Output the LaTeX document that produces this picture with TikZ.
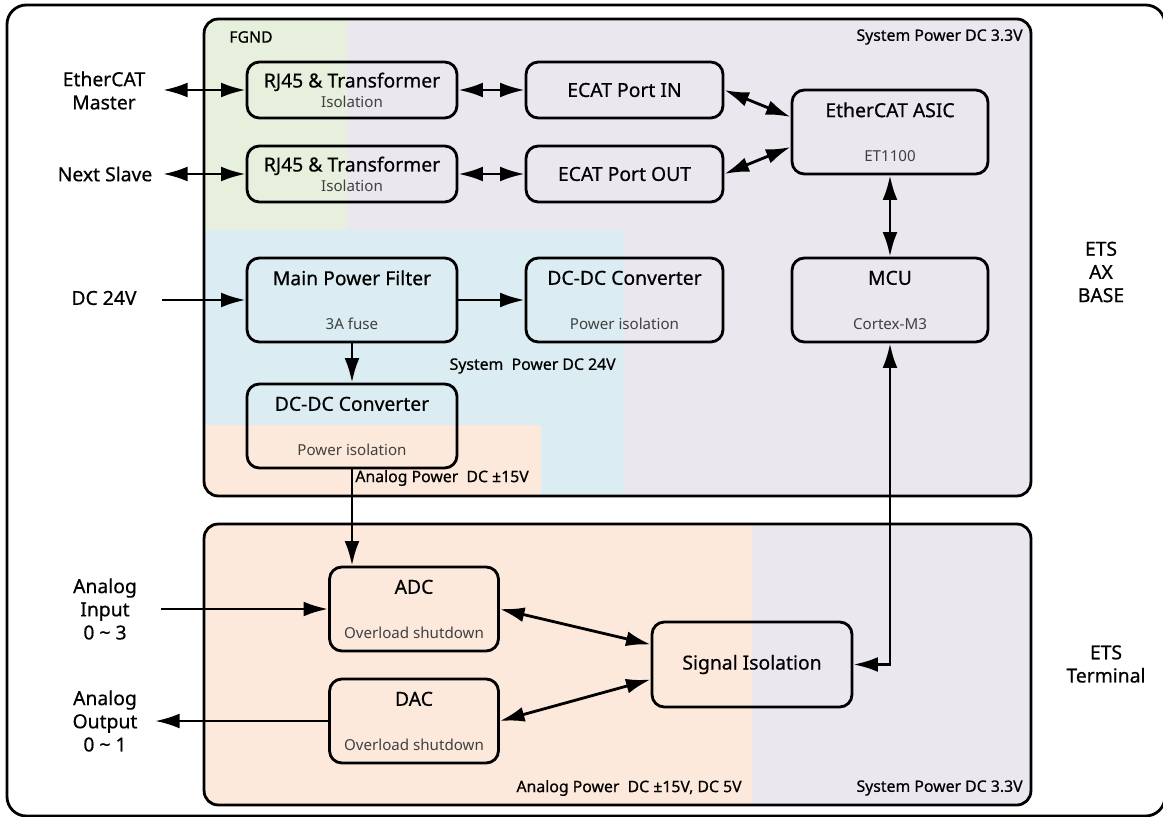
\documentclass[tikz,border=0pt]{standalone}
\usepackage{fontspec}
\setmainfont{Noto Sans}
\newfontfamily\medfont{Noto Sans}[FakeBold=0.6]
\usetikzlibrary{arrows.meta,calc}
\definecolor{fgndgreen}{HTML}{E7EFDD}
\definecolor{syslav}{HTML}{EAE7EF}
\definecolor{pwrblue}{HTML}{DBECF2}
\definecolor{anaorange}{HTML}{FCE9DC}
\definecolor{subgray}{HTML}{404040}
\newcommand{\subtxt}[1]{{\normalfont\fontsize{8.6}{10}\selectfont\color{subgray}#1}}
\tikzset{
  blk/.style={draw,line width=1.6pt,rounded corners=7pt,inner sep=0pt,align=center,
    font=\medfont\fontsize{11}{13.2}\selectfont},
  grp/.style={draw,line width=1.6pt,rounded corners=8pt,inner sep=0pt},
  reg/.style={font=\medfont\fontsize{9}{11}\selectfont,inner sep=0pt},
  ext/.style={align=center,font=\medfont\fontsize{11}{13.2}\selectfont,inner sep=0pt},
  con/.style={line width=1.6pt}
}
\begin{document}
\begin{tikzpicture}[x=0.02cm,y=-0.02cm,>={Latex[length=14pt,width=8.5pt]}]
      \useasboundingbox (0,0) rectangle (1163,817);
      \clip (0,0) rectangle (1163,817);
      \draw [line width=1.6pt,rounded corners=11pt] (7,5) rectangle (1165,816);

      % ETS AX BASE
      \begin{scope}
        \clip [rounded corners=8pt] (204,19) rectangle (1031,496);
        \fill [syslav] (204,19) rectangle (1031,496);
        \fill [fgndgreen] (204,19) rectangle (347,230);
        \fill [pwrblue] (204,230) rectangle (624,496);
        \fill [anaorange] (204,425) rectangle (541,496);
      \end{scope}
      \node (base) at (617.5,257.5) [grp,minimum width=16.54cm,minimum height=9.54cm] {};

      % ETS Terminal
      \begin{scope}
        \clip [rounded corners=8pt] (204,524) rectangle (1031,805);
        \fill [syslav] (204,524) rectangle (1031,805);
        \fill [anaorange] (204,524) rectangle (752,805);
      \end{scope}
      \node (term) at (617.5,664.5) [grp,minimum width=16.54cm,minimum height=5.62cm] {};

      \node (fgnd) at (229,37) [reg,anchor=west] {FGND};
      \node (sysa) at (1023,37) [reg,anchor=east] {System Power DC 3.3V};
      \node (sysb) at (616,366) [reg,anchor=east] {System\ \ Power DC 24V};
      \node (anaa) at (355,478) [reg,anchor=west] {Analog Power\ \ DC ±15V};
      \node (anab) at (742,788) [reg,anchor=east] {Analog Power\ \ DC ±15V, DC 5V};
      \node (sysc) at (1023,788) [reg,anchor=east] {System Power DC 3.3V};

      \node (rjin) at (352,90) [blk,minimum width=4.2cm,minimum height=1.12cm]
      {RJ45 \& Transformer\\[-2pt]\subtxt{Isolation}};
      \node (rjout) at (352,174) [blk,minimum width=4.2cm,minimum height=1.12cm]
      {RJ45 \& Transformer\\[-2pt]\subtxt{Isolation}};
      \node (portin) at (624.5,90) [blk,minimum width=3.94cm,minimum height=1.12cm]
      {ECAT Port IN};
      \node (portout) at (624.5,174) [blk,minimum width=3.94cm,minimum height=1.12cm]
      {ECAT Port OUT};
      \node (asic) at (890,132) [blk,minimum width=3.92cm,minimum height=1.68cm]
      {EtherCAT ASIC\\[12pt]\subtxt{ET1100}};
      \node (mcu) at (890,300) [blk,minimum width=3.92cm,minimum height=1.68cm]
      {MCU\\[12pt]\subtxt{Cortex-M3}};
      \node (filter) at (352,300) [blk,minimum width=4.2cm,minimum height=1.68cm]
      {Main Power Filter\\[12pt]\subtxt{3A fuse}};
      \node (dcsys) at (624.5,300) [blk,minimum width=3.94cm,minimum height=1.68cm]
      {DC-DC Converter\\[12pt]\subtxt{Power isolation}};
      \node (dcana) at (352,426) [blk,minimum width=4.2cm,minimum height=1.68cm]
      {DC-DC Converter\\[12pt]\subtxt{Power isolation}};
      \node (adc) at (414,609) [blk,minimum width=3.38cm,minimum height=1.68cm]
      {ADC\\[12pt]\subtxt{Overload shutdown}};
      \node (dac) at (414,721) [blk,minimum width=3.38cm,minimum height=1.68cm]
      {DAC\\[12pt]\subtxt{Overload shutdown}};
      \node (sigiso) at (752,664.5) [blk,minimum width=4cm,minimum height=1.7cm]
      {Signal Isolation};

      \node (master) at (104,90.5) [ext] {EtherCAT\\Master};
      \node (slave) at (105,174) [ext] {Next Slave};
      \node (dcin) at (104,298) [ext] {DC 24V};
      \node (ain) at (105,609) [ext] {Analog\\Input\\0 \textasciitilde{} 3};
      \node (aout) at (105,721) [ext] {Analog\\Output\\0 \textasciitilde{} 1};
      \node (axbase) at (1101,272) [ext] {ETS\\AX\\BASE};
      \node (etsterm) at (1106,664) [ext] {ETS\\Terminal};

      \coordinate (mastertip) at (163,90);
      \coordinate (slavetip) at (163,174);
      \coordinate (dcintail) at (162,300);
      \coordinate (aintail) at (161,609);
      \coordinate (aouttip) at (155,721);

      \draw [con,<->] (mastertip) -- (rjin.west);
      \draw [con,<->] (slavetip) -- (rjout.west);
      \draw [con,->] (dcintail) -- (filter.west);
      \draw [con,<->] (rjin) -- (portin);
      \draw [con,<->] (rjout) -- (portout);
      \draw [con,<->] (portin.east) -- ($(asic.west)+(0,-15)$);
      \draw [con,<->] (portout.east) -- ($(asic.west)+(0,15)$);
      \draw [con,<->] (asic) -- (mcu);
      \draw [con,->] (filter) -- (dcsys);
      \draw [con,->] (filter) -- (dcana);
      \draw [con,->] (dcana.south) -- (dcana.south |- adc.north);
      \draw [con,->] (aintail) -- (adc.west);
      \draw [con,->] (dac.west) -- (aouttip);
      \draw [con,<->] (adc.east) -- ($(sigiso.west)+(0,-20)$);
      \draw [con,<->] (dac.east) -- ($(sigiso.west)+(0,15)$);
      \draw [con,<->] (mcu.south) |- (sigiso.east);
    \end{tikzpicture}
\end{document}
